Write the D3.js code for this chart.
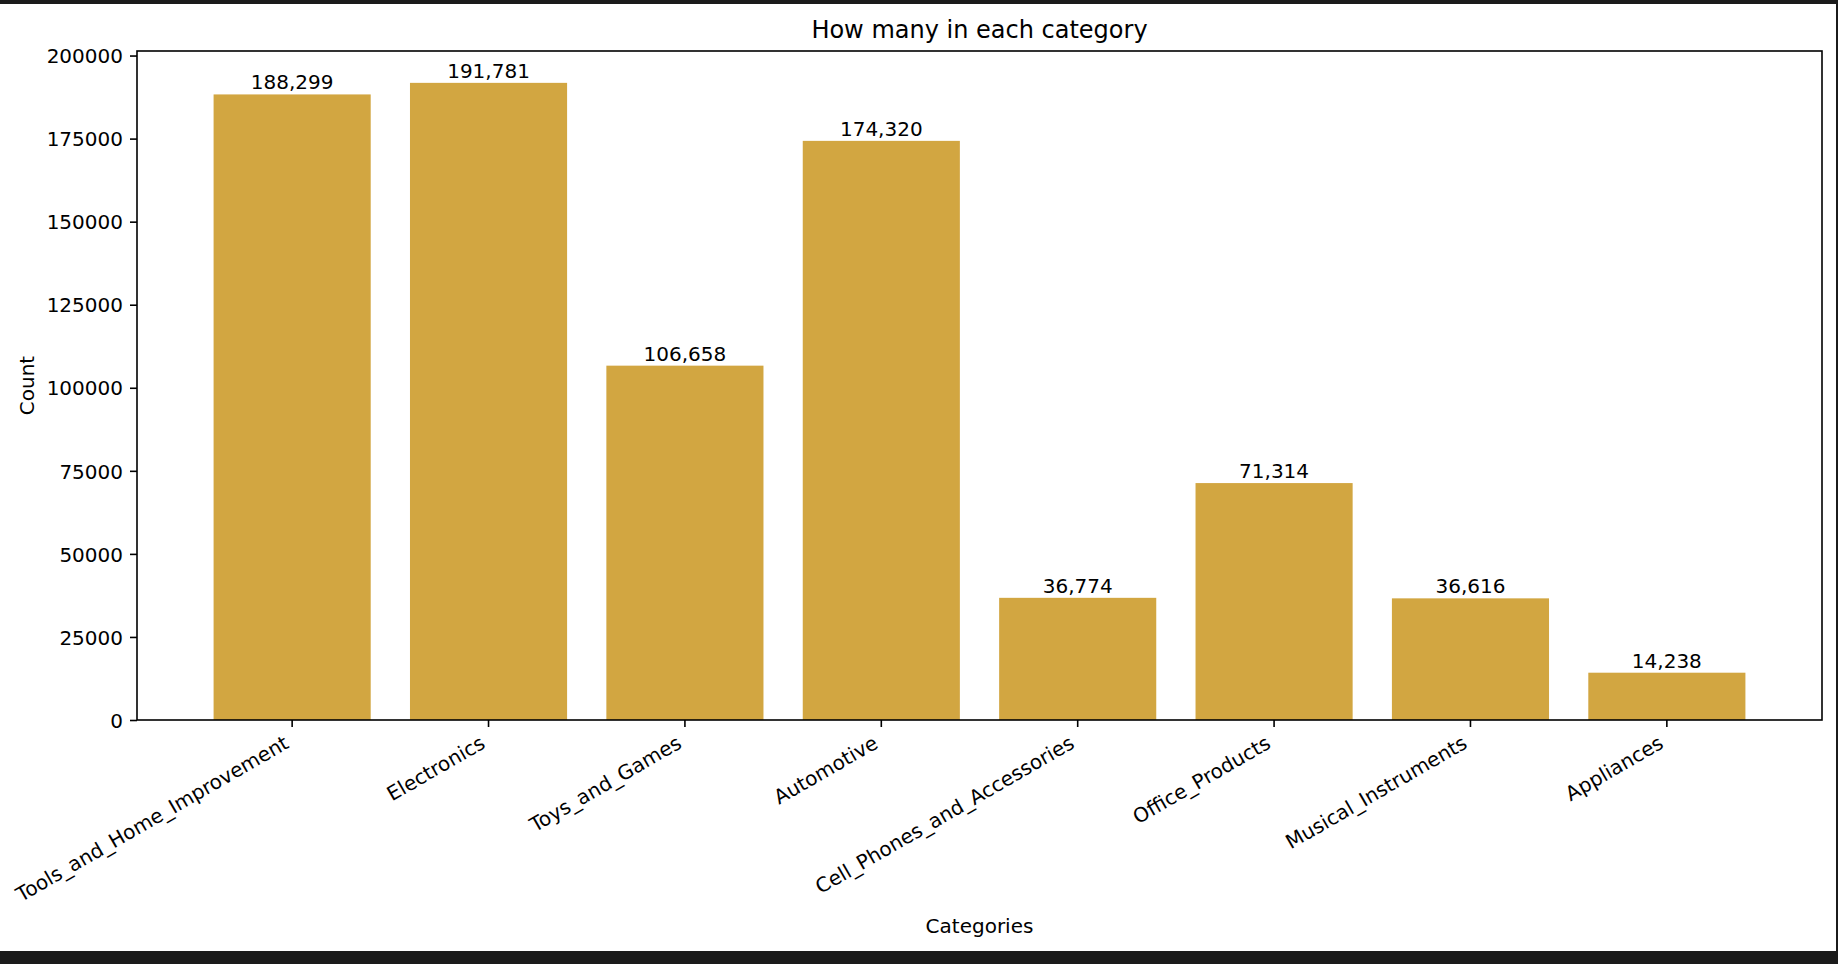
<!DOCTYPE html>
<html>
<head>
<meta charset="utf-8">
<script src="https://cdn.jsdelivr.net/npm/d3@7"></script>
<style>
    body { margin: 0; background: #ffffff; }
    svg text { font-family: "DejaVu Sans", sans-serif; fill: #000000; }
</style>
</head>
<body>
<svg id="barChart"></svg>
<script>
const categories = ["Tools_and_Home_Improvement", "Electronics", "Toys_and_Games", "Automotive",
    "Cell_Phones_and_Accessories", "Office_Products", "Musical_Instruments", "Appliances"];
const counts = [188299, 191781, 106658, 174320, 36774, 71314, 36616, 14238];
const yTicks = [0, 25000, 50000, 75000, 100000, 125000, 150000, 175000, 200000];

const chartTitle = "How many in each category";
const xLabel = "Categories";
const yLabel = "Count";

let svgWidth = 1838;
let svgHeight = 964;

/* plot area inside the figure */
let plot = {
    left: 137,
    right: 1822,
    top: 51,
    bottom: 720
}

let svg = d3.select("svg#barChart")
    .attr("width", svgWidth)
    .attr("height", svgHeight);

/* dark frame of the screenshot */
svg.append("rect").attr("x", 0).attr("y", 0).attr("width", svgWidth).attr("height", svgHeight).attr("fill", "#1b1b1b");
svg.append("rect").attr("x", 0).attr("y", 4).attr("width", svgWidth - 2).attr("height", 947).attr("fill", "#ffffff");

let xScale = d3.scaleBand()
    .domain(categories)
    .range([plot.left, plot.right])
    .paddingInner(0.2)
    .paddingOuter(0.39);

let yScale = d3.scaleLinear()
    .domain([0, d3.max(counts) * 1.05])
    .range([plot.bottom, plot.top]);

/* bars */
svg.append("g")
    .selectAll("rect")
    .data(categories)
    .join("rect")
    .attr("x", d => xScale(d))
    .attr("width", xScale.bandwidth())
    .attr("y", (d, i) => yScale(counts[i]))
    .attr("height", (d, i) => yScale(0) - yScale(counts[i]))
    .attr("fill", "#d2a641");

/* bar value labels */
svg.append("g")
    .selectAll("text")
    .data(categories)
    .join("text")
    .attr("x", d => xScale(d) + xScale.bandwidth() / 2)
    .attr("y", (d, i) => yScale(counts[i]) - 5)
    .attr("text-anchor", "middle")
    .style("font-size", "20px")
    .text((d, i) => d3.format(",")(counts[i]));

/* axes */
let yAxis = d3.axisLeft(yScale)
    .tickValues(yTicks)
    .tickFormat(d3.format("d"))
    .tickSize(7)
    .tickPadding(7);

let xAxis = d3.axisBottom(xScale)
    .tickSize(7)
    .tickPadding(7);

let yAxisG = svg.append("g")
    .attr("transform", "translate(" + plot.left + ",0)")
    .call(yAxis);
yAxisG.select("path.domain").remove();
yAxisG.selectAll(".tick line").attr("stroke", "#000000").attr("stroke-width", 1.6);
yAxisG.selectAll(".tick text")
    .attr("dy", "0.36em")
    .style("font-size", "20px")
    .style("font-family", "DejaVu Sans")
    .attr("fill", "#000000");

let xAxisG = svg.append("g")
    .attr("transform", "translate(0," + plot.bottom + ")")
    .call(xAxis);
xAxisG.select("path.domain").remove();
xAxisG.selectAll(".tick line").attr("stroke", "#000000").attr("stroke-width", 1.6);
// rotated labels, right end of the box under the tick
xAxisG.selectAll(".tick text")
    .attr("y", 0)
    .attr("dy", 0)
    .attr("text-anchor", "end")
    .attr("transform", "translate(-2,27) rotate(-30)")
    .style("font-size", "20px")
    .style("font-family", "DejaVu Sans")
    .attr("fill", "#000000");

/* frame around plot */
svg.append("rect")
    .attr("x", plot.left)
    .attr("y", plot.top)
    .attr("width", plot.right - plot.left)
    .attr("height", plot.bottom - plot.top)
    .attr("fill", "none")
    .attr("stroke", "#000000")
    .attr("stroke-width", 1.6);

/* title and axis labels */
svg.append("text")
    .attr("x", (plot.left + plot.right) / 2)
    .attr("y", 38)
    .attr("text-anchor", "middle")
    .style("font-size", "24px")
    .text(chartTitle);

svg.append("text")
    .attr("x", (plot.left + plot.right) / 2)
    .attr("y", 933)
    .attr("text-anchor", "middle")
    .style("font-size", "20px")
    .text(xLabel);

svg.append("text")
    .attr("transform", "translate(34," + ((plot.top + plot.bottom) / 2) + ")rotate(-90)")
    .attr("text-anchor", "middle")
    .style("font-size", "20px")
    .text(yLabel);
</script>
</body>
</html>
